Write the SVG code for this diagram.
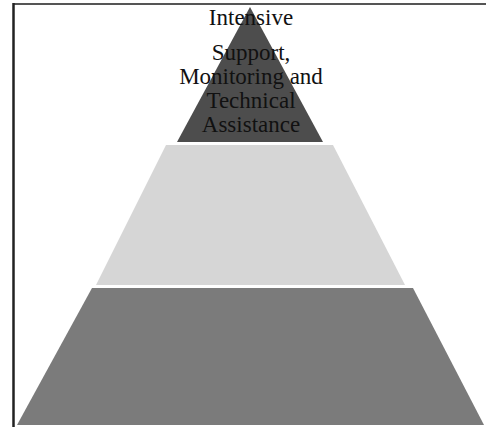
<svg xmlns="http://www.w3.org/2000/svg" width="486" height="427" viewBox="0 0 486 427">
<style>
.lbl{font-family:"Liberation Serif","Times New Roman",serif;font-size:23px;fill:#111;text-anchor:middle}
</style>
<rect x="0" y="0" width="486" height="427" fill="#ffffff"/>
<g id="frame">
<line x1="13" y1="4" x2="486" y2="4" stroke="#555" stroke-width="2"/>
<line x1="13.5" y1="3" x2="13.5" y2="427" stroke="#222" stroke-width="2.5"/>
</g>
<g id="tier-bottom">
<polygon points="92,288 413,288 484,425 17,425" fill="#7b7b7b"/>
</g>
<g id="tier-middle">
<polygon points="166,145 333,145 405,285 96,285" fill="#d6d6d6"/>
</g>
<g id="tier-top">
<polygon points="250,7 323,142 177,142" fill="#4d4d4d"/>
<text class="lbl" x="251" y="25">Intensive</text>
<text class="lbl" x="251" y="60">Support,</text>
<text class="lbl" x="251" y="84">Monitoring and</text>
<text class="lbl" x="251" y="108">Technical</text>
<text class="lbl" x="251" y="132">Assistance</text>
</g>
</svg>
